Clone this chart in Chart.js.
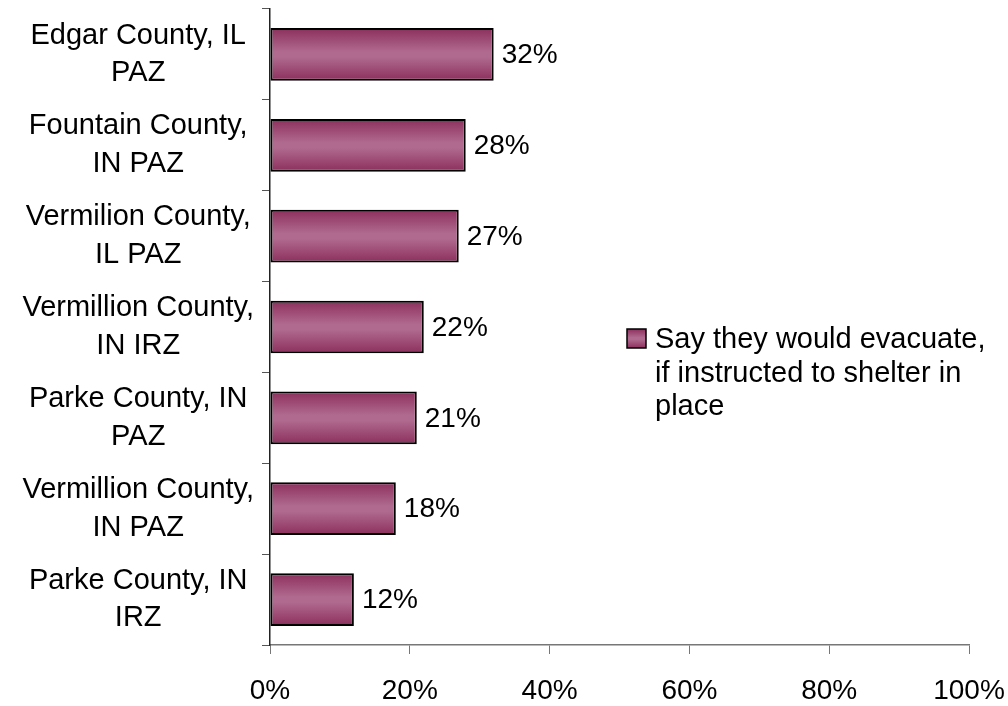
<!DOCTYPE html>
<html>
<head>
<meta charset="utf-8">
<script src="https://cdn.jsdelivr.net/npm/chart.js@4/dist/chart.umd.min.js"></script>
<style>
  html, body { margin: 0; padding: 0; background: #fff; }
  #wrap { width: 1008px; height: 706px; }
</style>
</head>
<body>
<div id="wrap"><canvas id="my-chart" width="1008" height="706"></canvas></div>
<script>
const counties = [
  ["Edgar County, IL", "PAZ"],
  ["Fountain County,", "IN PAZ"],
  ["Vermilion County,", "IL PAZ"],
  ["Vermillion County,", "IN IRZ"],
  ["Parke County, IN", "PAZ"],
  ["Vermillion County,", "IN PAZ"],
  ["Parke County, IN", "IRZ"]
];
const evacuate = [32, 28, 27, 22, 21, 18, 12];
const xTicks = [0, 20, 40, 60, 80, 100];
const legendLines = ["Say they would evacuate,", "if instructed to shelter in", "place"];

const FONT = "'Liberation Sans', Arial, sans-serif";
const barPct = 0.58;

function barGradient(ctx, top, bottom) {
  const g = ctx.createLinearGradient(0, top, 0, bottom);
  g.addColorStop(0, "#8c2f5d");
  g.addColorStop(0.45, "#b06a8f");
  g.addColorStop(0.55, "#b06a8f");
  g.addColorStop(1, "#8c2f5d");
  return g;
}

// value labels next to bars
const valueLabels = {
  id: "valueLabels",
  afterDatasetsDraw(chart) {
    const ctx = chart.ctx;
    const meta = chart.getDatasetMeta(0);
    ctx.save();
    ctx.font = "28px " + FONT;
    ctx.fillStyle = "#000";
    ctx.textAlign = "left";
    ctx.textBaseline = "middle";
    meta.data.forEach(function (bar, i) {
      ctx.fillText(evacuate[i] + "%", bar.x + 8, bar.y + 1);
    });
    ctx.restore();
  }
};

// legend on the right, wrapped like the original
const sideLegend = {
  id: "sideLegend",
  afterDraw(chart) {
    const ctx = chart.ctx;
    const bx = 627, by = 329, bs = 19;
    ctx.save();
    ctx.fillStyle = barGradient(ctx, by, by + bs);
    ctx.fillRect(bx, by, bs, bs);
    ctx.strokeStyle = "#000";
    ctx.lineWidth = 1.5;
    ctx.strokeRect(bx, by, bs, bs);
    ctx.font = "29px " + FONT;
    ctx.fillStyle = "#000";
    ctx.textBaseline = "alphabetic";
    legendLines.forEach(function (line, i) {
      ctx.fillText(line, 655, 348 + i * 33.5);
    });
    ctx.restore();
  }
};

const ctx = document.getElementById("my-chart").getContext("2d");
const chart = new Chart(ctx, {
  type: "bar",
  data: {
    labels: counties,
    datasets: [
      {
        label: legendLines.join(" "),
        data: evacuate,
        backgroundColor: function (c) {
          const ys = c.chart.scales.y;
          if (!ys || c.dataIndex === undefined) return "#a0507a";
          const center = ys.getPixelForValue(c.dataIndex);
          const half = (ys.height / counties.length) * barPct / 2;
          if (!isFinite(center) || !isFinite(half) || half <= 0) return "#a0507a";
          return barGradient(c.chart.ctx, center - half, center + half);
        },
        borderColor: "#000",
        borderWidth: 2,
        borderSkipped: false,
        barPercentage: barPct,
        categoryPercentage: 1
      }
    ]
  },
  options: {
    indexAxis: "y",
    responsive: false,
    animation: false,
    layout: { padding: { top: 9, right: 39, left: 0, bottom: 0 } },
    plugins: {
      legend: { display: false },
      tooltip: { enabled: false }
    },
    scales: {
      x: {
        min: 0,
        max: 100,
        afterBuildTicks: function (scale) {
          scale.ticks = xTicks.map(function (v) { return { value: v }; });
        },
        afterFit: function (scale) {
          scale.height = 61;
          scale.paddingLeft = 0;
          scale.paddingRight = 0;
        },
        grid: { drawOnChartArea: false, drawTicks: true, tickLength: 9, color: "#777", tickColor: "#777" },
        border: { color: "#777", width: 1.5 },
        ticks: {
          color: "#000",
          font: { family: FONT, size: 28 },
          padding: 20,
          maxRotation: 0,
          callback: function (v) { return v + "%"; }
        }
      },
      y: {
        afterFit: function (scale) {
          scale.width = 270;
          scale.paddingTop = 0;
          scale.paddingBottom = 0;
        },
        grid: { drawOnChartArea: false, drawTicks: true, tickLength: 8, color: "#555", tickColor: "#555", offset: true },
        border: { color: "#222", width: 1.5 },
        ticks: {
          color: "#000",
          crossAlign: "center",
          padding: 8,
          font: { family: FONT, size: 29, lineHeight: 1.3 }
        }
      }
    }
  },
  plugins: [valueLabels, sideLegend]
});
</script>
</body>
</html>
